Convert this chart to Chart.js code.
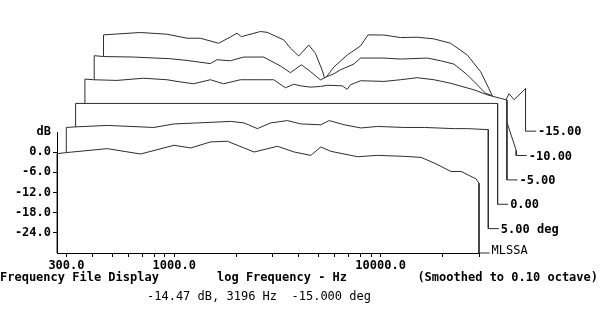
<!DOCTYPE html>
<html>
<head>
<meta charset="utf-8">
<script src="https://cdn.jsdelivr.net/npm/chart.js@4/dist/chart.umd.min.js"></script>
<style>
  html, body { margin: 0; padding: 0; background: #fff; }
  canvas { display: block; }
</style>
</head>
<body>
<canvas id="c" width="600" height="328"></canvas>
<script>
// axis ranges
const X_MIN = 270, X_MAX = 30000;
const Y_MIN = -30, Y_MAX = 6;
const xTicks = [300, 400, 500, 600, 700, 800, 900, 1000, 2000, 3000, 4000, 5000, 6000, 7000, 8000, 9000, 10000, 20000, 30000];
const xTickLabelled = [300, 1000, 10000];
const yTicks = [6, 0, -6, -12, -18, -24];

// traces, front (index 0) to back
const traceLabels = ["MLSSA", "5.00 deg", "0.00", "-5.00", "-10.00", "-15.00"];

const freq0 = [270, 297, 473, 686, 997, 1200, 1500, 1807, 2437, 3163, 3812, 4592, 5131, 5740, 7730, 9666, 13030, 15700, 18240, 21950, 24550, 29030, 30000];
const db0 = [-0.45, -0.15, 1.05, -0.55, 2.05, 1.25, 3.05, 3.25, 0.05, 1.75, 0.05, -0.95, 1.55, 0.25, -1.35, -0.95, -1.25, -1.55, -3.25, -5.75, -5.75, -7.95, -9.25];

const freq1 = [270, 294, 426, 718, 898, 1166, 1691, 1964, 2278, 2642, 3184, 3696, 4624, 5078, 6007, 7231, 8713, 11740, 14690, 20540, 23840, 30000];
const db1 = [0.1, 0.25, 0.7, 0.1, 1.15, 1.45, 1.9, 1.45, -0.25, 1.45, 2.15, 1.15, 0.9, 2.15, 0.9, -0.05, 0.4, 0.1, 0.1, -0.25, -0.25, -0.55];

const freq2 = [270, 30000];
const db2 = [0, 0];

const freq3 = [270, 297, 386, 520, 675, 755, 908, 1095, 1270, 1531, 1846, 2222, 2530, 2778, 2993, 3349, 3745, 4036, 4771, 5045, 5236, 5855, 7598, 9156, 11030, 13290, 16010, 20770, 24130, 28000, 30000];
const db3 = [0, -0.2, -0.4, 0.25, -0.2, -0.7, -1.4, -0.2, -1.4, -0.2, -0.2, -0.2, -2.6, -1.55, -2.0, -2.4, -2.2, -1.85, -2.0, -3.05, -1.7, -0.5, -0.7, -0.2, 0.4, -0.2, -1.25, -3.2, -4.7, -5.75, -6.2];

const freq4 = [270, 300, 419, 631, 760, 986, 1063, 1234, 1432, 1791, 2158, 2413, 2729, 3017, 3374, 3637, 3914, 4218, 4896, 5276, 6845, 8251, 11120, 12900, 14970, 17390, 19450, 21340, 22560, 27160, 30000];
const db4 = [-0.3, -0.55, -0.7, -1.2, -1.7, -2.65, -1.5, -1.8, -0.7, -0.7, -3.35, -5.35, -3.0, -5.0, -7.5, -6.5, -5.7, -4.5, -2.8, -1.0, -1.0, -1.3, -1.0, -1.8, -2.8, -6.0, -9.0, -11.5, -12.0, -20.4, -28.5];

const freq5 = [270, 407, 548, 686, 795, 976, 1112, 1198, 1258, 1555, 1676, 2018, 2175, 2386, 2668, 2875, 3099, 3196, 3528, 4099, 4756, 5171, 6170, 7436, 8963, 10790, 13000, 15670, 18190, 19940, 20730, 21990, 24040, 24950, 26400, 30000];
const db5 = [-1.35, -0.65, -1.15, -2.35, -2.35, -3.85, -2.0, -0.85, -1.9, -0.35, -0.6, -2.85, -5.3, -7.65, -4.35, -6.85, -11.85, -14.47, -10.95, -7.35, -4.65, -1.35, -1.4, -2.15, -2.05, -2.55, -3.85, -7.35, -12.35, -17.35, -19.55, -20.85, -20.85, -18.85, -20.65, -17.35];

const traceFreqs = [freq0, freq1, freq2, freq3, freq4, freq5];
const traceDbs = [db0, db1, db2, db3, db4, db5];

// cursor reading
const cursorFreq = 3196;
const cursorDb = -14.47;
const cursorAngle = -15.0;
const cursorTrace = 5;

// waterfall offset per trace: decades to the right, dB upwards
const DX = 0.0451;
const DY = 7.25;
const LEAD_DEC = 0.051;

const FONT = '"DejaVu Sans Mono", monospace';
const INK = "#2e2e2e";

const scales = {
  x: {
    type: "logarithmic", min: X_MIN, max: X_MAX,
    afterBuildTicks: (s) => { s.ticks = xTicks.map((v) => ({ value: v })); },
    afterFit: (s) => { s.height = 22; },
    ticks: {
      autoSkip: false, maxRotation: 0, padding: 2, color: "#000",
      font: { family: FONT, size: 12, weight: "bold" },
      callback: (v) => (xTickLabelled.includes(v) ? v.toFixed(1) : ""),
    },
    grid: { drawOnChartArea: false, tickLength: 4, color: "#000" },
    border: { color: "#000", z: 1 },
  },
  y: {
    type: "linear", min: Y_MIN, max: Y_MAX,
    afterBuildTicks: (s) => { s.ticks = yTicks.map((v) => ({ value: v })); },
    afterFit: (s) => { s.width = 57; },
    ticks: {
      padding: 2, color: "#000",
      font: { family: FONT, size: 12, weight: "bold" },
      callback: (v) => (v === Y_MAX ? "dB" : v.toFixed(1)),
    },
    grid: {
      drawOnChartArea: false, tickLength: 4,
      color: (c) => (c.tick && c.tick.value === Y_MAX ? "rgba(0,0,0,0)" : "#000"),
    },
    border: { color: "#000", z: 1 },
  },
};

const datasets = [];
traceFreqs.forEach((fr, k) => {
  const sx = Math.pow(10, k * DX);
  // shifted copies of the main axes; range set after ticks so the line
  // controller does not trim the points that run past the plot edge
  scales["x" + k] = {
    type: "logarithmic", display: false, bounds: "data",
    afterBuildTicks: (s) => { s.min = X_MIN / sx; s.max = X_MAX / sx; },
  };
  scales["y" + k] = {
    type: "linear", display: false, bounds: "data",
    afterBuildTicks: (s) => { s.min = Y_MIN - k * DY; s.max = Y_MAX - k * DY; },
  };

  const pts = [{ x: fr[0], y: Y_MIN }];
  fr.forEach((f, i) => pts.push({ x: f, y: traceDbs[k][i] }));
  pts.push({ x: fr[fr.length - 1], y: Y_MIN });
  pts.push({ x: X_MAX * Math.pow(10, LEAD_DEC), y: Y_MIN });

  datasets.push({
    label: traceLabels[k],
    data: pts,
    xAxisID: "x" + k,
    yAxisID: "y" + k,
    order: k,
    borderColor: INK,
    borderWidth: 1,
    pointRadius: 0,
    tension: 0,
    fill: false,
    clip: false,
    occludes: true,
  });
});

datasets.push({
  label: "cursor",
  data: [{ x: cursorFreq, y: cursorDb }],
  xAxisID: "x" + cursorTrace,
  yAxisID: "y" + cursorTrace,
  order: -1,
  showLine: false,
  pointStyle: "cross",
  pointRadius: 4,
  pointBorderWidth: 1,
  pointBorderColor: INK,
  clip: false,
});

// white-fill every trace before its line, so nearer traces hide those behind
const waterfall = {
  id: "waterfall",
  beforeDatasetDraw(chart, args) {
    const ds = chart.data.datasets[args.index];
    if (!ds.occludes) return;
    const ctx = chart.ctx;
    const pts = args.meta.data;
    ctx.save();
    ctx.beginPath();
    pts.forEach((p, i) => (i ? ctx.lineTo(p.x, p.y) : ctx.moveTo(p.x, p.y)));
    ctx.closePath();
    ctx.fillStyle = "#fff";
    ctx.fill();
    ctx.restore();
  },
  afterDraw(chart) {
    const ctx = chart.ctx;
    ctx.save();
    ctx.fillStyle = "#000";
    // trace labels at the end of each lead line
    chart.data.datasets.forEach((ds, i) => {
      if (!ds.occludes) return;
      const pts = chart.getDatasetMeta(i).data;
      const p = pts[pts.length - 1];
      if (i === 0) {
        ctx.font = "12px " + FONT;
        ctx.textBaseline = "alphabetic";
        ctx.fillText(ds.label, p.x + 2, p.y + 0.5);
      } else {
        ctx.font = "bold 12px " + FONT;
        ctx.textBaseline = "middle";
        ctx.fillText(ds.label, p.x + 2, p.y + 1);
      }
    });
    // footer
    ctx.font = "bold 12px " + FONT;
    ctx.textBaseline = "middle";
    ctx.textAlign = "left";
    ctx.fillText("Frequency File Display", 0, 278);
    ctx.fillText("log Frequency - Hz", 217, 278);
    ctx.textAlign = "right";
    ctx.fillText("(Smoothed to 0.10 octave)", 598, 278);
    ctx.textAlign = "left";
    ctx.font = "12px " + FONT;
    ctx.fillText(
      cursorDb.toFixed(2) + " dB, " + cursorFreq + " Hz  " + cursorAngle.toFixed(3) + " deg",
      147, 297
    );
    ctx.restore();
  },
};

new Chart(document.getElementById("c"), {
  type: "line",
  data: { datasets },
  options: {
    responsive: false,
    animation: false,
    devicePixelRatio: 1,
    events: [],
    layout: { padding: { left: 0, top: 132, right: 121, bottom: 53 } },
    plugins: { legend: { display: false }, tooltip: { enabled: false } },
    scales,
  },
  plugins: [waterfall],
});
</script>
</body>
</html>
